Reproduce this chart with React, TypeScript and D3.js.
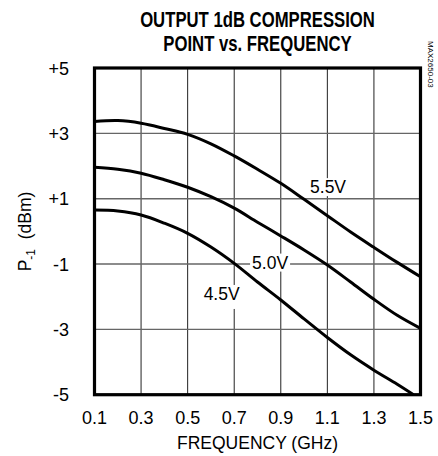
import * as d3 from "d3";
import { useEffect, useRef } from "react";

// (GHz, dBm)
const freqs = [0.1, 0.2, 0.3, 0.4, 0.5, 0.6, 0.7, 0.8, 0.9, 1.0, 1.1, 1.2, 1.3, 1.4, 1.5];
const p55 = [3.36, 3.39, 3.31, 3.15, 2.97, 2.68, 2.31, 1.9, 1.47, 0.98, 0.48, -0.02, -0.49, -0.95, -1.39];
const p50 = [1.96, 1.9, 1.78, 1.58, 1.35, 1.06, 0.71, 0.28, -0.14, -0.57, -1.03, -1.55, -2.08, -2.57, -2.97];
const freqs45 = [0.1, 0.2, 0.3, 0.4, 0.5, 0.6, 0.7, 0.8, 0.9, 1.0, 1.1, 1.2, 1.3, 1.4, 1.47];
const p45 = [0.65, 0.62, 0.5, 0.25, -0.06, -0.48, -0.98, -1.55, -2.1, -2.68, -3.25, -3.78, -4.25, -4.68, -5.0];

const xTicks = [0.1, 0.3, 0.5, 0.7, 0.9, 1.1, 1.3, 1.5];
const yTicks = [-5, -3, -1, 1, 3, 5];
const yTickLabels = ["-5", "-3", "-1", "+1", "+3", "+5"];

const FONT = "'Liberation Sans Narrow', 'Arial Narrow', 'Liberation Sans', Arial, sans-serif";

export default function App() {
  const ref = useRef<SVGSVGElement>(null);

  useEffect(() => {
    if (!ref.current) return;
    const svg = d3.select(ref.current);
    svg.selectAll("*").remove();

    const x = d3.scaleLinear().domain([0.1, 1.5]).range([94.5, 420.5]);
    const y = d3.scaleLinear().domain([-5, 5]).range([394.7, 68]);

    svg.append("rect").attr("width", 438).attr("height", 456).attr("fill", "#fff");

    // title: no bold narrow face installed, so squeeze a bold one
    const titleLines = ["OUTPUT 1dB COMPRESSION", "POINT vs. FREQUENCY"];
    titleLines.forEach((t, i) => {
      svg
        .append("text")
        .attr("transform", `translate(257.5,${26.5 + i * 24}) scale(0.76,1)`)
        .attr("text-anchor", "middle")
        .attr("font-family", "'Liberation Sans', Arial, sans-serif")
        .attr("font-weight", "bold")
        .attr("font-size", 22)
        .text(t);
    });

    const g = svg.append("g");

    // grid
    g.selectAll("line.vg")
      .data(xTicks.slice(1, -1))
      .join("line")
      .attr("class", "vg")
      .attr("x1", (d) => x(d))
      .attr("x2", (d) => x(d))
      .attr("y1", y(5))
      .attr("y2", y(-5))
      .attr("stroke", "#222")
      .attr("stroke-width", 1);
    g.selectAll("line.hg")
      .data(yTicks.slice(1, -1))
      .join("line")
      .attr("class", "hg")
      .attr("x1", x(0.1))
      .attr("x2", x(1.5))
      .attr("y1", (d) => y(d))
      .attr("y2", (d) => y(d))
      .attr("stroke", "#666")
      .attr("stroke-width", 1.4);

    // curves
    const line = d3
      .line<[number, number]>()
      .x((d) => x(d[0]))
      .y((d) => y(d[1]))
      .curve(d3.curveCatmullRom.alpha(0.5));
    const series = [
      freqs.map((f, i) => [f, p55[i]] as [number, number]),
      freqs.map((f, i) => [f, p50[i]] as [number, number]),
      freqs45.map((f, i) => [f, p45[i]] as [number, number]),
    ];
    g.selectAll("path.curve")
      .data(series)
      .join("path")
      .attr("class", "curve")
      .attr("d", (d) => line(d))
      .attr("fill", "none")
      .attr("stroke", "#000")
      .attr("stroke-width", 3);

    // curve labels with white boxes
    const labels = [
      { text: "5.5V", f: 1.103, v: 1.17, w: 36, h: 18 },
      { text: "5.0V", f: 0.854, v: -1.14, w: 40, h: 18 },
      { text: "4.5V", f: 0.646, v: -2.1, w: 36, h: 24 },
    ];
    labels.forEach((l) => {
      g.append("rect")
        .attr("x", x(l.f) - l.w / 2)
        .attr("y", y(l.v) - 15)
        .attr("width", l.w)
        .attr("height", l.h)
        .attr("fill", "#fff");
      g.append("text")
        .attr("x", x(l.f))
        .attr("y", y(l.v))
        .attr("text-anchor", "middle")
        .attr("font-family", FONT)
        .attr("font-size", 17.5)
        .text(l.text);
    });

    // frame
    g.append("rect")
      .attr("x", x(0.1))
      .attr("y", y(5))
      .attr("width", x(1.5) - x(0.1))
      .attr("height", y(-5) - y(5))
      .attr("fill", "none")
      .attr("stroke", "#000")
      .attr("stroke-width", 3.2);

    // tick labels
    g.selectAll("text.xt")
      .data(xTicks)
      .join("text")
      .attr("class", "xt")
      .attr("x", (d) => x(d))
      .attr("y", 423.5)
      .attr("text-anchor", "middle")
      .attr("font-family", FONT)
      .attr("font-size", 18)
      .text((d) => d3.format(".1f")(d));
    g.selectAll("text.yt")
      .data(yTicks)
      .join("text")
      .attr("class", "yt")
      .attr("x", 69)
      .attr("y", (d) => y(d) + 6.5)
      .attr("text-anchor", "end")
      .attr("font-family", FONT)
      .attr("font-size", 18)
      .text((_, i) => yTickLabels[i]);

    // axis titles
    svg
      .append("text")
      .attr("x", 257.5)
      .attr("y", 449)
      .attr("text-anchor", "middle")
      .attr("font-family", FONT)
      .attr("font-size", 17.5)
      .text("FREQUENCY (GHz)");

    const yt = svg
      .append("text")
      .attr("transform", "translate(31,231.5) rotate(-90)")
      .attr("text-anchor", "middle")
      .attr("font-family", FONT)
      .attr("font-size", 17.5);
    yt.append("tspan").text("P");
    yt.append("tspan").attr("font-size", 12).attr("dy", 4).text("-1");
    yt.append("tspan").attr("dy", -4).text("\u00a0 (dBm)");

    svg
      .append("text")
      .attr("transform", "translate(428,41) rotate(90)")
      .attr("font-family", FONT)
      .attr("font-size", 8)
      .text("MAX2650-03");
  }, []);

  return (
    <svg
      ref={ref}
      width={438}
      height={456}
      style={{ position: "absolute", left: 0, top: 0 }}
    />
  );
}
